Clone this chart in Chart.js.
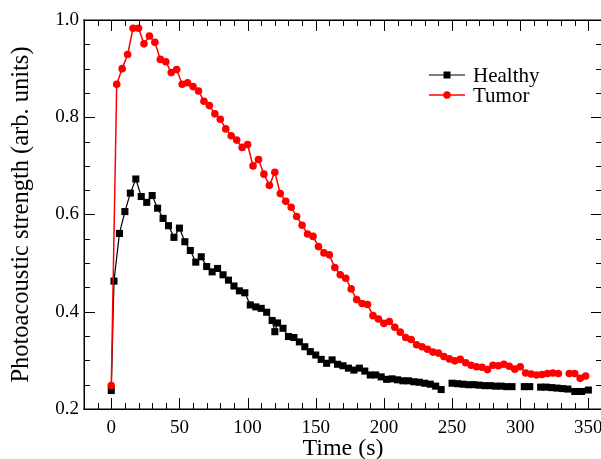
<!DOCTYPE html>
<html>
<head>
<meta charset="utf-8">
<script src="https://cdn.jsdelivr.net/npm/chart.js@4.4.1/dist/chart.umd.min.js"></script>
<style>
    html, body { margin: 0; padding: 0; background: #fff; overflow: hidden; }
    #wrap { position: relative; width: 601px; height: 459px; overflow: hidden; }
    #chart { position: absolute; left: 0; top: 0; }
</style>
</head>
<body>
<div id="wrap"><canvas id="chart" width="640" height="459"></canvas></div>
<script>
// time (s) and photoacoustic strength, null = break in the line
const healthyTime = [0, 2, 6, 10, 14, 18, 22, 26, 30, 34, 38, 42, 46, 50, 54, 58, 62, 66, 70, 74,
    78, 82, 86, 90, 94, 98, 102, 106, 110, 114, 118, 120, 122, 126, 130, 134, 138, 142, 146, 150,
    154, 158, 162, 166, 170, 174, 178, 182, 186, 190, 194, 198, 202, 206, 210, 214, 218, 222, 226, 230,
    234, 238, 242, 246, 250, 254, 258, 262, 266, 270, 274, 278, 282, 286, 290, 294, 299, 303, 307, 311,
    315, 319, 323, 327, 331, 335, 340, 345, 350];
const healthyValue = [0.238, 0.463, 0.561, 0.606, 0.644, 0.673, 0.637, 0.625, 0.639, 0.613, 0.592, 0.577, 0.553, 0.572, 0.544, 0.526, 0.502, 0.513, 0.493, 0.482,
    0.489, 0.476, 0.465, 0.453, 0.443, 0.439, 0.414, 0.410, 0.407, 0.399, 0.382, 0.359, 0.377, 0.366, 0.349, 0.347, 0.338, 0.328, 0.318, 0.311,
    0.302, 0.294, 0.301, 0.292, 0.289, 0.284, 0.280, 0.284, 0.278, 0.270, 0.270, 0.266, 0.261, 0.262, 0.260, 0.258, 0.258, 0.256, 0.255, 0.253,
    0.251, 0.247, 0.240, null, 0.253, 0.252, 0.251, 0.250, 0.250, 0.249, 0.248, 0.248, 0.247, 0.247, 0.246, 0.246, null, 0.246, 0.246, null,
    0.245, 0.245, 0.244, 0.243, 0.242, 0.241, 0.236, 0.236, 0.239];

const tumorTime = [0, 4, 8, 12, 16, 20, 24, 28, 32, 36, 40, 44, 48, 52, 56, 60, 64, 68, 72, 76,
    80, 84, 88, 92, 96, 100, 104, 108, 112, 116, 120, 124, 128, 132, 136, 140, 144, 148, 152, 156,
    160, 164, 168, 172, 176, 180, 184, 188, 192, 196, 200, 204, 208, 212, 216, 220, 224, 228, 232, 236,
    240, 244, 248, 252, 256, 260, 264, 268, 272, 276, 280, 284, 288, 292, 296, 300, 304, 308, 312, 316,
    320, 324, 328, 332, 336, 340, 344, 348];
const tumorValue = [0.248, 0.868, 0.900, 0.929, 0.983, 0.983, 0.951, 0.967, 0.954, 0.919, 0.914, 0.892, 0.898, 0.868, 0.871, 0.863, 0.854, 0.833, 0.824, 0.807,
    0.796, 0.776, 0.762, 0.753, 0.738, 0.744, 0.700, 0.713, 0.683, 0.660, 0.687, 0.643, 0.627, 0.615, 0.596, 0.578, 0.560, 0.555, 0.534, 0.521,
    0.517, 0.491, 0.476, 0.469, 0.447, 0.425, 0.417, 0.415, 0.392, 0.385, 0.376, 0.380, 0.368, 0.358, 0.347, 0.343, 0.332, 0.328, 0.323, 0.317,
    0.315, 0.308, 0.303, 0.299, 0.302, 0.295, 0.290, 0.287, 0.286, 0.281, 0.290, 0.289, 0.292, 0.288, 0.282, 0.287, 0.274, 0.272, 0.270, 0.271,
    0.273, 0.274, 0.273, null, 0.273, 0.273, 0.263, 0.268];

const xTicks = [0, 50, 100, 150, 200, 250, 300, 350];
const yTicks = [0.2, 0.4, 0.6, 0.8, 1.0];
const seriesNames = ['Healthy', 'Tumor'];

const serif = "'Liberation Serif', 'DejaVu Serif', serif";

const toPoints = (ts, vs) => ts.map((t, i) => ({x: t, y: vs[i]}));

// box frame with inward ticks on all sides, plus the legend inside the plot
const frameTicks = {
    id: 'frameTicks',
    afterDraw(chart) {
        const c = chart.ctx;
        const a = chart.chartArea;
        const xs = chart.scales.x, ys = chart.scales.y;
        c.save();
        c.fillStyle = '#000';
        // frame
        c.fillRect(a.left - 0.5, a.top - 0.5, a.right - a.left + 1, 1.5);
        c.fillRect(a.left - 0.5, a.bottom - 0.5, a.right - a.left + 1, 1.5);
        c.fillRect(a.left - 0.5, a.top - 0.5, 1.5, a.bottom - a.top + 1);
        c.fillRect(a.right - 0.5, a.top - 0.5, 1.5, a.bottom - a.top + 1);
        // minor every 10 s / 0.05, major at the labelled values
        for (let t = -20; t <= 360; t += 10) {
            const px = Math.round(xs.getPixelForValue(t));
            const len = xTicks.includes(t) ? 11 : 6;
            c.fillRect(px, a.bottom - len, 1, len);
            c.fillRect(px, a.top, 1, len);
        }
        for (let k = 4; k <= 20; k++) {
            const py = Math.round(ys.getPixelForValue(k * 0.05));
            const len = k % 4 === 0 ? 11 : 6;
            c.fillRect(a.left, py, len, 1);
            c.fillRect(a.right - len, py, len, 1);
        }

        // legend
        const lx = 429, ly = 75, gap = 20;
        chart.data.datasets.forEach((ds, i) => {
            const yy = ly + i * gap;
            c.strokeStyle = ds.borderColor;
            c.lineWidth = ds.borderWidth;
            c.beginPath();
            c.moveTo(lx, yy); c.lineTo(lx + 36, yy);
            c.stroke();
            c.fillStyle = ds.backgroundColor;
            if (ds.pointStyle === 'rect') {
                c.fillRect(lx + 18 - 3.5, yy - 3.5, 7, 7);
            } else {
                c.beginPath();
                c.arc(lx + 18, yy, 3.8, 0, Math.PI * 2);
                c.fill();
            }
            c.fillStyle = '#000';
            c.font = '21px ' + serif;
            c.textBaseline = 'middle';
            c.fillText(ds.label, lx + 44, yy + 1);
        });
        c.restore();
    }
};

const ctx = document.getElementById('chart').getContext('2d');
new Chart(ctx, {
    type: 'line',
    data: {
        datasets: [
            {
                label: seriesNames[0],
                data: toPoints(healthyTime, healthyValue),
                borderColor: '#000',
                backgroundColor: '#000',
                borderWidth: 1.2,
                pointStyle: 'rect',
                pointRadius: 5,
                pointBorderWidth: 0,
                spanGaps: false,
                order: 1
            },
            {
                label: seriesNames[1],
                data: toPoints(tumorTime, tumorValue),
                borderColor: '#ff0000',
                backgroundColor: '#ff0000',
                borderWidth: 1.5,
                pointStyle: 'circle',
                pointRadius: 3.8,
                pointBorderWidth: 0,
                spanGaps: false,
                order: 0
            }
        ]
    },
    options: {
        responsive: false,
        animation: false,
        layout: {padding: {top: 20, right: 38, bottom: 0, left: 0}},
        plugins: {
            legend: {display: false},
            tooltip: {enabled: false}
        },
        scales: {
            x: {
                type: 'linear',
                min: -20,
                max: 360,
                grid: {display: false, drawTicks: false},
                border: {display: false},
                ticks: {
                    stepSize: 50,
                    includeBounds: false,
                    maxRotation: 0,
                    padding: 8,
                    color: '#000',
                    font: {family: serif, size: 19}
                },
                title: {
                    display: true,
                    text: 'Time (s)',
                    color: '#000',
                    font: {family: serif, size: 24, lineHeight: 0.85},
                    padding: {top: 0, bottom: 0}
                },
                afterFit(scale) { scale.height = 50; }
            },
            y: {
                min: 0.2,
                max: 1.0,
                grid: {display: false, drawTicks: false},
                border: {display: false},
                ticks: {
                    stepSize: 0.2,
                    padding: 5,
                    color: '#000',
                    font: {family: serif, size: 19},
                    callback: (v) => v.toFixed(1)
                },
                title: {
                    display: true,
                    text: 'Photoacoustic strength (arb. units)',
                    color: '#000',
                    font: {family: serif, size: 24.5},
                    padding: {top: 7, bottom: 0}
                },
                afterFit(scale) { scale.width = 84; }
            }
        }
    },
    plugins: [frameTicks]
});
</script>
</body>
</html>
